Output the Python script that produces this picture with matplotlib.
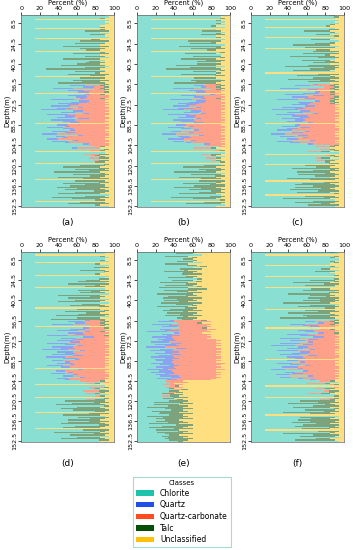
import numpy as np
import matplotlib
matplotlib.use("Agg")
import matplotlib.pyplot as plt
from matplotlib.patches import Patch

# one row per metre of core, 2.5 m .. 152.5 m
DEPTH = np.arange(2.5, 153.0, 1.0)
CLASSES = ["Chlorite", "Quartz", "Quartz-carbonate", "Talc", "Unclassified"]
COLORS = ["#1fc2ab", "#1f4fe8", "#ff4b1f", "#064f06", "#ffc20a"]
PANELS = ["(a)", "(b)", "(c)", "(d)", "(e)", "(f)"]
YTICKS = [8.5, 24.5, 40.5, 56.5, 72.5, 88.5, 104.5, 120.5, 136.5, 152.5]
XTICKS = [0, 20, 40, 60, 80, 100]

# each character is one row, base-36 digit x 5 %.
# Unclassified is given directly; the other four are rescaled to fill the rest.
chlorite_a = ("hig2ih ihig2hdiheih3gci bh8ice3gahdi9fch c8hd5ibg9e2chad7 fac6e9b3d8ac5b97 "
              "96b74a8c597b68a3 7958a694b785a69c dfbge3hcfgdief2g c9fbd7gae8c3bf9d a7c9eb8hd6bf3c9gh")
quartz_a = ("000000 0000000000000000 0000000000000000 0000000000000000 0324032013214234 "
            "2413523142325320 2132132312121311 0010000000000000 0000000000000000 00000000000000000")
qcarb_a = ("000000 0000000000000000 0000000000000000 0000000000000000 1325243024436345 "
           "6757856486746650 8797686a58896874 4150200310201000 0000000000000000 00000000000000000")
talc_a = ("101000 0001015003000260 6090530170408025 5904b06183050749 1111101010010000 "
          "0000000000000000 0000000000000000 0101100211202201 58264a1739506284 7a5836904b6205810")
uncl_a = ("212h12 1232h2131221h312 231323h213213232 3212322312h23132 1212121h21121212 "
          "121121211211212h 1211212112121121 12312h21321312h1 23121321231h2132 213212312132h2131")

chlorite_b = ("ihg3hi higi3heigdih2ibh ci9hbf2gbichaedi d9ic6hcgaf3dibc8 ebd7fac2e9bd6ca8 "
              "a7c85b9d6a8c79b2 8a69b7a5c896b7ad egchf2idgheifg3h dagce8hbf9d2cgae b8dafc9ie7cg3dahi")
quartz_b = ("000000 0000000000000000 0000000000000000 0000000000000000 0214032013214234 "
            "2313423142314320 2132121312231211 0000000000000000 0000000000000000 00000000000000000")
qcarb_b = ("000000 0000000000000000 0000000000000000 0000000000000000 2325143025426345 "
           "5746845375646540 7686586947685863 3140100200201000 0000000000000000 00000000000000000")
talc_b = ("001010 1010004015010071 6091720170618450 5906b15182050759 1111100000010000 "
          "0000000000000000 0000000000000000 0010100210101100 4715390628405173 694725803a5104700")
uncl_b = ("121h21 2131h3212132h123 312213h132213123 2313213231h32123 2121212h12121211 "
          "212112121212121h 2112121211212121 21321h12312321h2 13212312132h1231 132121321231h1213")

chlorite_c = ("hgi2ih igh2ifchieg3hdig d9hb3eciag8dhbfc ib7ec9h2dagc8ebh c9e6b3da7c8b5d9a "
              "8b694a7c58a697b3 96a75b8496a7c58b fdhegci3fgehdgf2 be8gcaf9dh7c3eb9 c9f8dag2be7hc9fbi")
quartz_c = ("000000 0000000000000000 0000000000000000 0000000000000000 1304201342324132 "
            "3242523143242310 1322312323121321 0000000000000000 0000000000000000 00000000000000000")
qcarb_c = ("000000 0000000000000000 0000000000000000 0000000000000000 3426302453537244 "
           "6476857486576750 7858957a68684975 1302030010102000 0000000000000000 00000000000000000")
talc_c = ("110000 0110026103100401 4806035071940625 06a3580047159360 1111101010111111 "
          "0000000000000000 0000000000000000 1101120011202120 6391572840a50368 5829471063a058260")
uncl_c = ("212h12 123h2132131h2312 2312h31213212321 3121232h13213213 12121h2121121212 "
          "121212112121211h 2121121212112121 1232131h2131231h 231213212312h132 1232131h213212312")

chlorite_d = ("ih3gih hi3giheichig2hif ebh9gd2ibfch8eah b8idaf3cg9eb7hc6 d9b6e2ca7d9b5c8a "
              "7a59b684c796a58b 697a583b796a8c79 cge3hdficgehf2gd 9eb7gc8af3d9hbea da8fb92cg7eahc8fi")
quartz_d = ("000000 0000000000000000 0000000000000000 0000000000000000 1324001341324232 "
            "3242143513242431 2131320121312121 0000000000000000 0000000000000000 00000000000000000")
qcarb_d = ("000000 0000000000000000 0000000000000000 0000000000000000 2436203462547365 "
           "7586576847675865 9776970587867487 4120031030201002 0000000000000000 00000000000000000")
talc_d = ("000100 1001003051010002 3608140062509370 690472051836a05b 1111101001001000 "
          "0000000000000000 0000000000000000 1010011021101012 836a159720480637 479268051a3705920")
uncl_d = ("12h212 21h312132123h121 312132h213213231 231321h312312132 21212h1212121121 "
          "1212112121211212 121212h121211212 213h213212312h12 213213212h132123 132123h1231213213")

chlorite_e = ("b7c5a9 c8b5a9c6b4a7c95b 7a496b3857a49628 5937a48629573a68 6483759462857364 "
              "5374628536475364 4635746253645746 6574836574653756 5374625836472536 46375264835746257")
quartz_e = ("000000 0000000000000000 0000000000000000 0000000000000000 1304230234123423 "
            "3425342353423534 4253243435234232 0000000000000000 0000000000000000 00000000000000000")
qcarb_e = ("000000 0000000000000000 0000000000000000 0000000000000000 5748675869586878 "
           "9a899b7aa9a8aa9a aaba8a9baa9b8897 4323120101001000 0000000000000000 00000000000000000")
talc_e = ("230412 1304210315230241 4152614362372433 6253162431524132 1010001000000000 "
          "0000000000000000 0000000000000000 0000101121321321 3526475375638463 64735635245243231")
uncl_e = ("786978 7869758697869786 8697869579687968 7968797869786978 5464545354645453 "
          "2323232232323223 2312323132323234 a9cabac9bacab9ca 9a8b9a8a9b8a9a8b a9b89a8b9a8b9a89a")

chlorite_f = ("hi3hgi ihgi2hifhdihg3ih cg9ebh3daif8chbe ae7hc9f2bd8gac6i fbd8ac3e9bd7ac6b "
              "8b6a497c5a86b792 7a58b694a785b69c ehcf3gdiefchg2fe ad8fc9gbe7c3had9 c8ea9fb3dg7cahe9i")
quartz_f = ("000000 0000000000000000 0000000000000000 0000000000000000 0213320032143242 "
            "3142523142342320 2132131312231211 0000000000000000 0000000000000000 00000000000000000")
qcarb_f = ("000000 0000000000000000 0000000000000000 0000000000000000 1325430254264374 "
           "6575867485674760 8697587a68795974 2041012010300012 0000000000000000 00000000000000000")
talc_f = ("100110 0110010204001001 5183600470295163 73a05820649175b0 1111000100100000 "
          "0000000000000000 0000000000000000 1011002021201011 749258163a500748 5937826041a570380")
uncl_f = ("21h121 1213h21312321h21 213122h312132312 1231212h21321321 121212h212112121 "
          "212121121212112h 1212211212121212 2131h12312321h12 21321312132h1231 2131213h123121321")

PANEL_DATA = [
    (chlorite_a, quartz_a, qcarb_a, talc_a, uncl_a),
    (chlorite_b, quartz_b, qcarb_b, talc_b, uncl_b),
    (chlorite_c, quartz_c, qcarb_c, talc_c, uncl_c),
    (chlorite_d, quartz_d, qcarb_d, talc_d, uncl_d),
    (chlorite_e, quartz_e, qcarb_e, talc_e, uncl_e),
    (chlorite_f, quartz_f, qcarb_f, talc_f, uncl_f),
]

# axes boxes in figure fractions
LEFTS = [0.060, 0.388, 0.711]
ROWS = [(0.6236, 0.349), (0.1964, 0.3455)]
LABEL_Y = [0.596, 0.158]


def decode(s):
    return np.array([int(c, 36) * 5 for c in s if c != " "], float)


def main():
    fig = plt.figure(figsize=(3.53, 5.5), dpi=100)
    for i, strings in enumerate(PANEL_DATA):
        r, c = divmod(i, 3)
        bottom, height = ROWS[r]
        ax = fig.add_axes([LEFTS[c], bottom, 0.263, height])
        parts = [decode(s) for s in strings]
        rest = sum(parts[:4])
        scale = np.where(rest > 0, (100 - parts[4]) / np.where(rest > 0, rest, 1), 0)
        parts = [p * scale for p in parts[:4]] + [parts[4]]
        left = np.zeros(len(DEPTH))
        for vals, color in zip(parts, COLORS):
            ax.barh(DEPTH, vals, left=left.copy(), height=1.0, color=color,
                    alpha=0.52, linewidth=0)
            left += vals
        ax.set_xlim(0, 100)
        ax.set_ylim(153, 2)
        ax.xaxis.tick_top()
        ax.xaxis.set_label_position("top")
        ax.set_xticks(XTICKS)
        ax.set_xlabel("Percent (%)", fontsize=4.9, labelpad=1)
        ax.set_yticks(YTICKS)
        ax.set_yticklabels([str(t) for t in YTICKS], rotation=90, va="center")
        ax.set_ylabel("Depth(m)", fontsize=4.9, labelpad=1)
        ax.tick_params(labelsize=4.6, length=2, width=0.5, pad=1)
        for sp in ax.spines.values():
            sp.set_linewidth(0.5)
            sp.set_color("#666666")
        fig.text(LEFTS[c] + 0.263 / 2, LABEL_Y[r], PANELS[i],
                 ha="center", va="center", fontsize=6.5)

    handles = [Patch(facecolor=col, label=name) for name, col in zip(CLASSES, COLORS)]
    leg = fig.legend(handles=handles, title="Classes", loc="upper center",
                     bbox_to_anchor=(0.516, 0.14), fontsize=5.5, title_fontsize=5,
                     fancybox=False, edgecolor="#8fd3c8", handlelength=2.3,
                     handleheight=0.7, labelspacing=0.35, borderpad=0.4)
    leg.get_frame().set_linewidth(0.8)
    fig.savefig("out.png", dpi=100)


if __name__ == "__main__":
    main()
